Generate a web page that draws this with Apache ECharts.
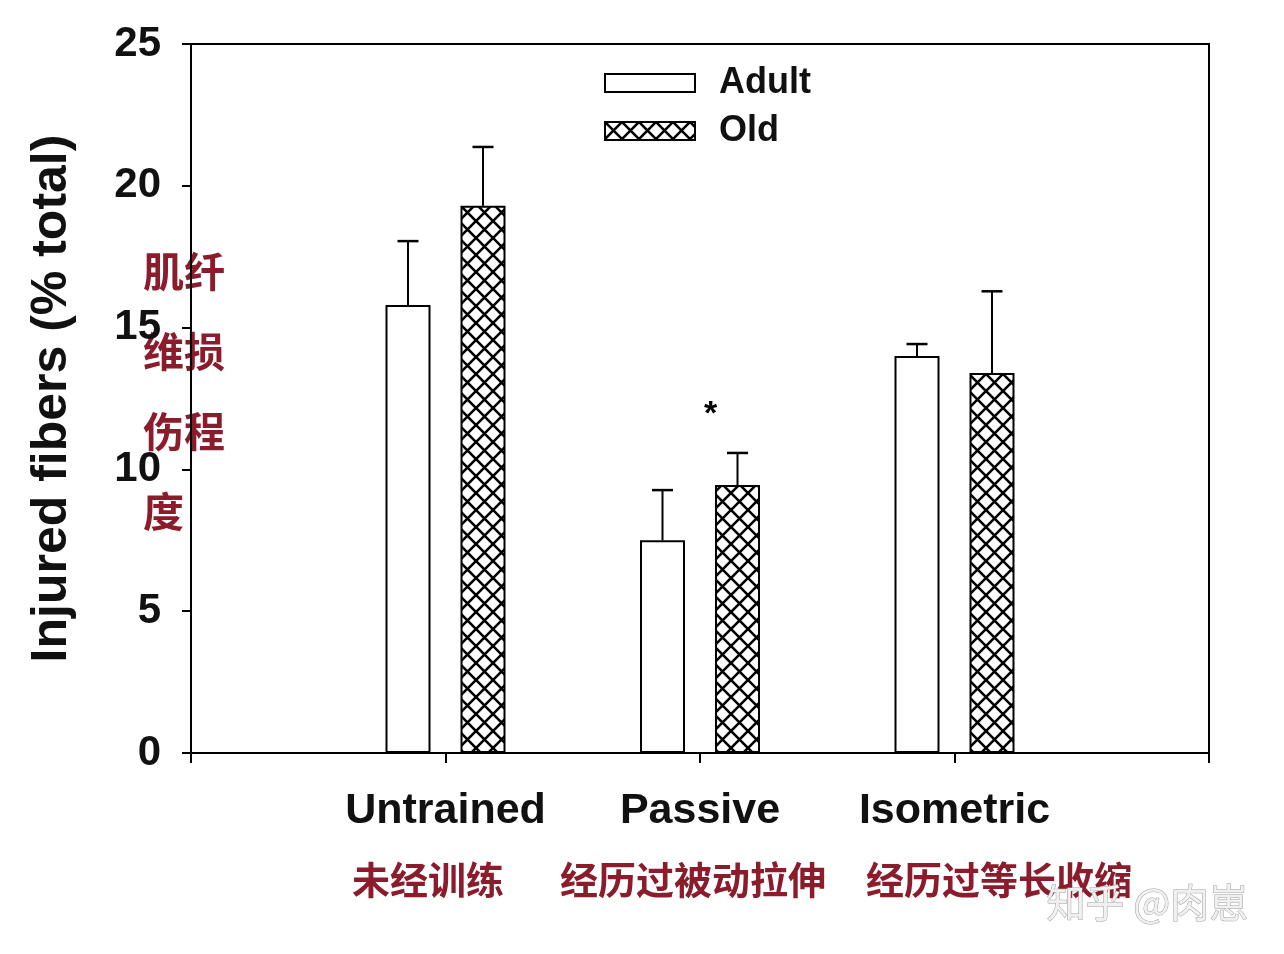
<!DOCTYPE html>
<html>
<head>
<meta charset="utf-8">
<script src="https://cdn.jsdelivr.net/npm/echarts@6/dist/echarts.min.js"></script>
<style>
html,body{margin:0;padding:0;background:#fff;}
#chart{width:1284px;height:954px;}
</style>
</head>
<body>
<div id="chart"></div>
<script>
// ---- data ----
const categories = ['', 'Untrained', 'Passive', 'Isometric', ''];
const seriesNames = ['Adult', 'Old'];
const adultValues = ['-', 15.8, 7.5, 14.0, '-'];
const oldValues = ['-', 19.3, 9.45, 13.4, '-'];
const adultErrTop = ['-', 18.05, 9.27, 14.42, '-'];
const oldErrTop = ['-', 21.37, 10.58, 16.28, '-'];
const oldSignificance = ['', '', '*', '', ''];
const cnCategoryLabels = ['未经训练', '经历过被动拉伸', '经历过等长收缩'];
const cnYLabelLines = ['肌纤', '维损', '伤程', '度'];
const yTitle = 'Injured fibers (% total)';
const watermark = '知乎 @肉崽';

// ---- hatch pattern ----
function makeHatch(size, lw) {
  const c = document.createElement('canvas');
  c.width = size; c.height = size;
  const ctx = c.getContext('2d');
  ctx.fillStyle = '#fff';
  ctx.fillRect(0, 0, size, size);
  ctx.strokeStyle = '#000';
  ctx.lineWidth = lw;
  ctx.beginPath();
  for (const o of [-size, 0, size]) {
    ctx.moveTo(o, 0); ctx.lineTo(o + size, size);
    ctx.moveTo(o, size); ctx.lineTo(o + size, 0);
  }
  ctx.stroke();
  return c;
}
const hatch = makeHatch(17, 2.6);

const BAR_W = 45;
const GAP_PX = 30;
const HALF = (BAR_W + GAP_PX) / 2;
const RED = '#8a1c2c';
const FONT_EN = "'Liberation Sans', Arial, sans-serif";
const FONT_CN = "'Noto Sans CJK SC', sans-serif";

function errData(vals, tops) {
  const out = [];
  vals.forEach((v, i) => { if (v !== '-') out.push([i, v, tops[i]]); });
  return out;
}

function errRender(sign, sig) {
  return function (params, api) {
    const idx = api.value(0);
    const base = api.coord([idx, api.value(1)]);
    const top = api.coord([idx, api.value(2)]);
    const x = base[0] + sign * HALF;
    const children = [
      { type: 'line', shape: { x1: x, y1: base[1], x2: x, y2: top[1] }, style: { stroke: '#000', lineWidth: 2 } },
      { type: 'line', shape: { x1: x - 10.5, y1: top[1], x2: x + 10.5, y2: top[1] }, style: { stroke: '#000', lineWidth: 2.5 } }
    ];
    const s = sig ? sig[idx] : '';
    if (s) {
      children.push({ type: 'text', x: x - 27, y: top[1] - 38,
        style: { text: s, fontSize: 34, fontWeight: 'bold', fontFamily: FONT_EN, fill: '#000', align: 'center', verticalAlign: 'middle' } });
    }
    return { type: 'group', children: children };
  };
}

const chart = echarts.init(document.getElementById('chart'));
const graphics = [];
const cnLefts = [352, 560, 866];
cnCategoryLabels.forEach((t, i) => {
  graphics.push({ type: 'text', left: cnLefts[i], top: 861,
    style: { text: t, fontSize: 38, fontWeight: 'bold', fontFamily: FONT_CN, fill: RED } });
});
cnYLabelLines.forEach((t, i) => {
  graphics.push({ type: 'text', left: 143, top: 251 + i * 80,
    style: { text: t, fontSize: 41, fontWeight: 'bold', fontFamily: FONT_CN, fill: RED } });
});
graphics.push({ type: 'text', left: 1046, top: 882,
  style: { text: watermark, fontSize: 39, fontFamily: FONT_CN, fill: '#f0f0f0', stroke: '#a0a0a0', lineWidth: 1 } });

chart.setOption({
  animation: false,
  backgroundColor: '#fff',
  grid: { left: 191, right: 75, top: 44, bottom: 201, show: true, borderColor: '#000', borderWidth: 2, backgroundColor: 'transparent' },
  legend: {
    orient: 'vertical', left: 604, top: 65, padding: 0,
    itemWidth: 90, itemHeight: 18, itemGap: 12, icon: 'rect',
    data: seriesNames,
    textStyle: { fontSize: 36, fontWeight: 'bold', fontFamily: FONT_EN, color: '#111', lineHeight: 36, padding: [0, 0, 0, 19] }
  },
  xAxis: {
    type: 'category', data: categories, boundaryGap: false,
    axisLine: { lineStyle: { color: '#000', width: 2 } },
    axisTick: { show: true, interval: 0, length: 10, lineStyle: { color: '#000', width: 2 } },
    axisLabel: { interval: 0, margin: 37, fontSize: 43, fontWeight: 'bold', fontFamily: FONT_EN, color: '#111' },
    splitLine: { show: false }
  },
  yAxis: {
    type: 'value', min: 0, max: 25, interval: 5,
    name: yTitle, nameLocation: 'middle', nameGap: 114,
    nameTextStyle: { fontSize: 50, fontWeight: 'bold', fontFamily: FONT_EN, color: '#111' },
    axisLine: { show: true, lineStyle: { color: '#000', width: 2 } },
    axisTick: { show: true, length: 9, lineStyle: { color: '#000', width: 2 } },
    axisLabel: { margin: 30, fontSize: 42, fontWeight: 'bold', fontFamily: FONT_EN, color: '#111' },
    splitLine: { show: false }
  },
  graphic: graphics,
  series: [
    { name: 'Adult', type: 'bar', data: adultValues, barWidth: BAR_W, barGap: (GAP_PX / BAR_W * 100) + '%',
      itemStyle: { color: '#fff', borderColor: '#000', borderWidth: 2 } },
    { name: 'Old', type: 'bar', data: oldValues, barWidth: BAR_W,
      itemStyle: { color: { image: hatch, repeat: 'repeat' }, borderColor: '#000', borderWidth: 2 } },
    { name: 'AdultErr', type: 'custom', data: errData(adultValues, adultErrTop), renderItem: errRender(-1, null), z: 5 },
    { name: 'OldErr', type: 'custom', data: errData(oldValues, oldErrTop), renderItem: errRender(1, oldSignificance), z: 5 }
  ]
});
</script>
</body>
</html>
